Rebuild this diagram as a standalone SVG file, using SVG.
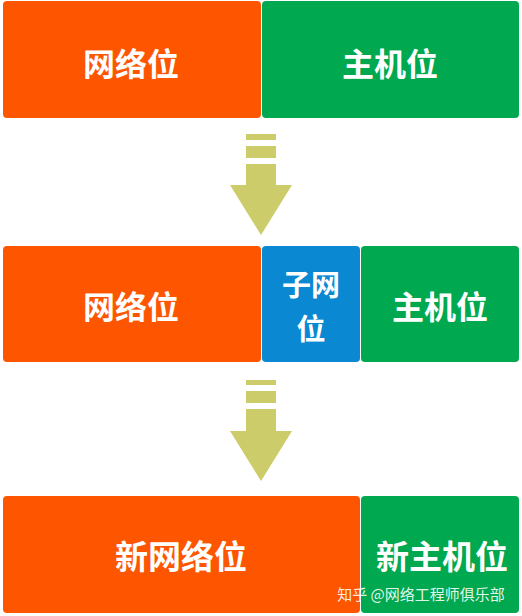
<svg xmlns="http://www.w3.org/2000/svg" width="522" height="616" viewBox="0 0 522 616">
<style>
.or{fill:#fe5500}
.gr{fill:#00a94f}
.bl{fill:#0a88d2}
.t{font-family:"Noto Sans CJK SC","Noto Sans CJK JP",sans-serif;font-weight:bold;fill:#fff;text-anchor:middle;dominant-baseline:central}
.ar{fill:#cccc6a}
.wm{font-family:"Noto Sans CJK SC",sans-serif;font-size:15px;fill:#fff;fill-opacity:0.9;text-anchor:middle;dominant-baseline:central}
</style>
<rect width="522" height="616" fill="#fff"/>
<g id="row1-net"><rect class="or" x="3" y="1" width="258" height="117" rx="4"/><text class="t" x="131" y="62" font-size="32">网络位</text></g>
<g id="row1-host"><rect class="gr" x="262" y="1" width="257" height="117" rx="4"/><text class="t" x="390" y="62" font-size="32">主机位</text></g>
<g id="row2-net"><rect class="or" x="3" y="246" width="258" height="116" rx="4"/><text class="t" x="131" y="305" font-size="32">网络位</text></g>
<g id="row2-sub"><rect class="bl" x="262" y="246" width="98" height="116" rx="4"/><text class="t" x="311" y="283" font-size="29">子网</text><text class="t" x="311" y="327" font-size="29">位</text></g>
<g id="row2-host"><rect class="gr" x="361" y="246" width="158" height="116" rx="4"/><text class="t" x="440" y="305" font-size="32">主机位</text></g>
<g id="row3-net"><rect class="or" x="3" y="496" width="357" height="117" rx="4"/><text class="t" x="181" y="555" font-size="33">新网络位</text></g>
<g id="row3-host"><rect class="gr" x="361" y="496" width="158" height="117" rx="4"/><text class="t" x="442" y="555" font-size="33">新主机位</text></g>
<g id="connectors">
<g class="ar"><rect x="246" y="134" width="30" height="6"/><rect x="246" y="146" width="30" height="12"/><path d="M246 164H276V185H292L261 235L230 185H246Z"/></g>
<g class="ar"><rect x="246" y="380" width="30" height="5"/><rect x="246" y="391" width="30" height="12"/><path d="M246 409H276V431H292L261 481L230 431H246Z"/></g>
</g>
<text class="wm" x="421" y="593">知乎 @网络工程师俱乐部</text>
</svg>
